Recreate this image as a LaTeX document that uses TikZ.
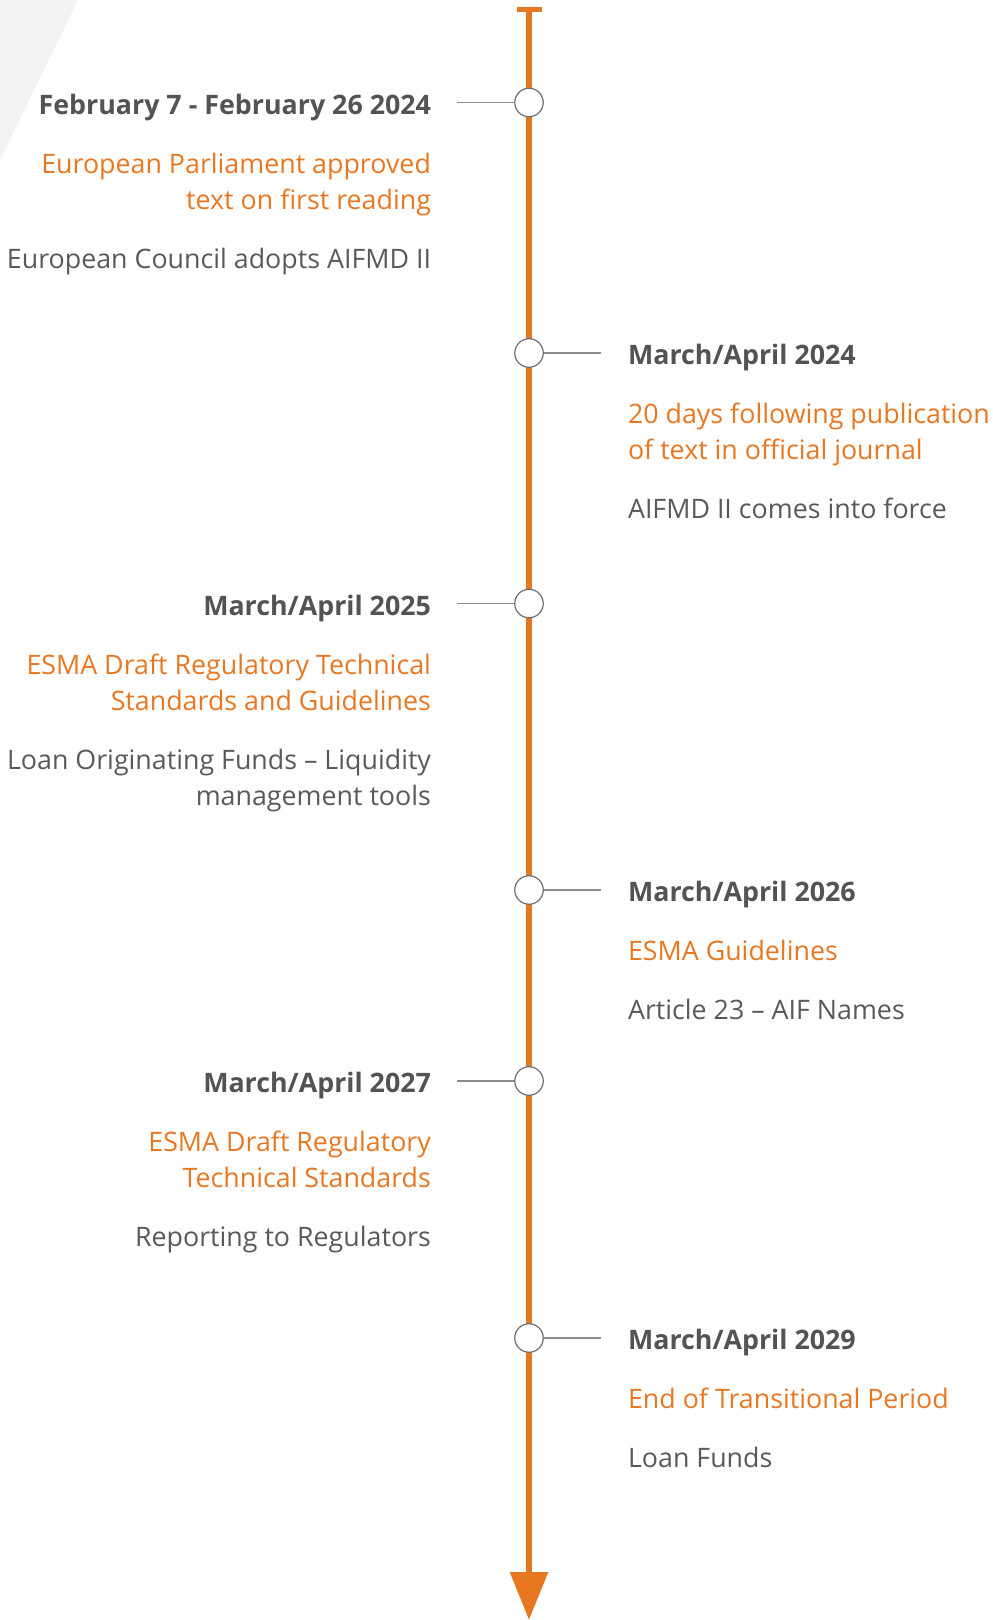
\documentclass[tikz,border=0pt]{standalone}
\usepackage{fontspec}
\setmainfont{Open Sans}
\usetikzlibrary{arrows.meta,positioning}

\definecolor{accent}{HTML}{E87722}
\definecolor{dategray}{HTML}{535353}
\definecolor{notegray}{HTML}{595959}
\definecolor{tickgray}{HTML}{8C8C8C}
\definecolor{ringgray}{HTML}{6E6E6E}
\definecolor{paper}{HTML}{F2F2F2}

\begin{document}
\begin{tikzpicture}[
    x=1pt, y=-1pt,
    when/.style={inner sep=0pt, text=dategray, font=\fontsize{26.8}{36.2}\selectfont\bfseries},
    what/.style={inner sep=0pt, text=accent, font=\fontsize{26.8}{36.2}\selectfont},
    detail/.style={inner sep=0pt, text=notegray, font=\fontsize{26.8}{36.2}\selectfont},
    ring/.style={circle, draw=ringgray, line width=1.2pt, fill=white, minimum size=28.5pt, inner sep=0pt},
    tick/.style={draw=tickgray, line width=1.3pt},
    spine/.style={draw=accent, line width=6pt, {Bar[width=25pt,line width=5pt]}-{Triangle[length=48pt,width=37pt]}}
]
\useasboundingbox (0,0) rectangle (993,1620);
\fill[paper] (0,0) -- (78,0) -- (0,160) -- cycle;

% the timeline itself
\coordinate (top) at (529,6.5);
\coordinate (bottom) at (529,1620);
\draw[spine] (top) -- (bottom);

% milestones on the line
\node[ring] (c1) at (529,102.5) {};
\node[ring] (c2) at (529,353) {};
\node[ring] (c3) at (529,603.5) {};
\node[ring] (c4) at (529,890) {};
\node[ring] (c5) at (529,1081) {};
\node[ring] (c6) at (529,1338) {};

\coordinate[left=57pt of c1.west] (t1);
\coordinate[right=57pt of c2.east] (t2);
\coordinate[left=57pt of c3.west] (t3);
\coordinate[right=57pt of c4.east] (t4);
\coordinate[left=57pt of c5.west] (t5);
\coordinate[right=57pt of c6.east] (t6);

% left side entries (base of a two-line node is its last line)
\node[when, left=26pt of t1, anchor=base east, yshift=-11.7pt] (d1) {February 7 - February 26 2024};
\node[what, align=right, below=95.2pt of d1.base east, anchor=base east] (w1) {European Parliament approved\\text on first reading};
\node[detail, below=59pt of w1.base east, anchor=base east] (n1) {European Council adopts AIFMD II};

\node[when, left=26pt of t3, anchor=base east, yshift=-11.7pt] (d3) {March/April 2025};
\node[what, align=right, below=95.2pt of d3.base east, anchor=base east] (w3) {ESMA Draft Regulatory Technical\\Standards and Guidelines};
\node[detail, align=right, below=95.2pt of w3.base east, anchor=base east] (n3) {Loan Originating Funds – Liquidity\\management tools};

\node[when, left=26pt of t5, anchor=base east, yshift=-11.7pt] (d5) {March/April 2027};
\node[what, align=right, below=95.2pt of d5.base east, anchor=base east] (w5) {ESMA Draft Regulatory\\Technical Standards};
\node[detail, below=59pt of w5.base east, anchor=base east] (n5) {Reporting to Regulators};

% right side entries
\node[when, right=27pt of t2, anchor=base west, yshift=-11.7pt] (d2) {March/April 2024};
\node[what, align=left, below=95.2pt of d2.base west, anchor=base west] (w2) {20 days following publication\\of text in official journal};
\node[detail, below=59pt of w2.base west, anchor=base west] (n2) {AIFMD II comes into force};

\node[when, right=27pt of t4, anchor=base west, yshift=-11.7pt] (d4) {March/April 2026};
\node[what, below=59pt of d4.base west, anchor=base west] (w4) {ESMA Guidelines};
\node[detail, below=59pt of w4.base west, anchor=base west] (n4) {Article 23 – AIF Names};

\node[when, right=27pt of t6, anchor=base west, yshift=-11.7pt] (d6) {March/April 2029};
\node[what, below=59pt of d6.base west, anchor=base west] (w6) {End of Transitional Period};
\node[detail, below=59pt of w6.base west, anchor=base west] (n6) {Loan Funds};

\draw[tick] (c1.west) -- (t1);
\draw[tick] (c2.east) -- (t2);
\draw[tick] (c3.west) -- (t3);
\draw[tick] (c4.east) -- (t4);
\draw[tick] (c5.west) -- (t5);
\draw[tick] (c6.east) -- (t6);
\end{tikzpicture}
\end{document}
